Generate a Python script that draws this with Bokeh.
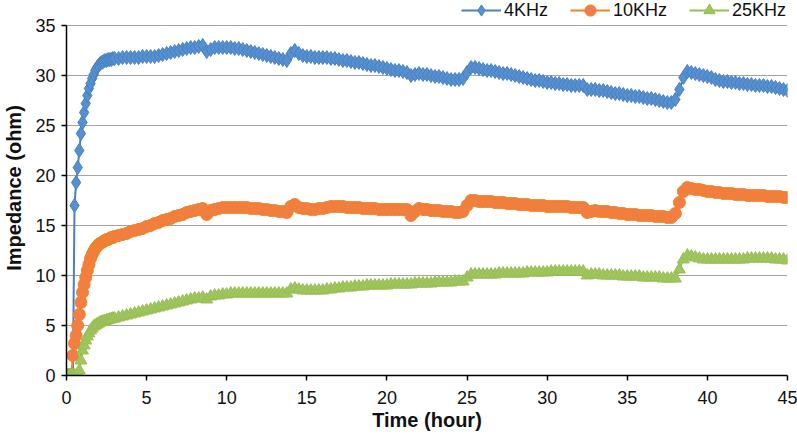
from bokeh.plotting import figure
from bokeh.models import Range1d, FixedTicker, Legend, LegendItem
from bokeh.embed import file_html
from bokeh.resources import INLINE

# sampling times (hour)
time_h = [
    0.0, 0.1, 0.2, 0.3, 0.4, 0.5, 0.6, 0.7, 0.8, 0.9,
    1.0, 1.1, 1.2, 1.3, 1.4, 1.5, 1.6, 1.7, 1.8, 1.9,
    2.0, 2.1, 2.2, 2.3, 2.4, 2.5, 2.6, 2.7, 2.8, 2.9,
    3.0, 3.25, 3.5, 3.75, 4.0, 4.25, 4.5, 4.75,
    5.0, 5.25, 5.5, 5.75, 6.0, 6.25, 6.5, 6.75,
    7.0, 7.25, 7.5, 7.75, 8.0, 8.25, 8.5, 8.75,
    9.0, 9.25, 9.5, 9.75, 10.0, 10.25, 10.5, 10.75,
    11.0, 11.25, 11.5, 11.75, 12.0, 12.25, 12.5, 12.75,
    13.0, 13.25, 13.5, 13.75, 14.0, 14.25, 14.5, 14.75,
    15.0, 15.25, 15.5, 15.75, 16.0, 16.25, 16.5, 16.75,
    17.0, 17.25, 17.5, 17.75, 18.0, 18.25, 18.5, 18.75,
    19.0, 19.25, 19.5, 19.75, 20.0, 20.25, 20.5, 20.75,
    21.0, 21.25, 21.5, 21.75, 22.0, 22.25, 22.5, 22.75,
    23.0, 23.25, 23.5, 23.75, 24.0, 24.25, 24.5, 24.75,
    25.0, 25.25, 25.5, 25.75, 26.0, 26.25, 26.5, 26.75,
    27.0, 27.25, 27.5, 27.75, 28.0, 28.25, 28.5, 28.75,
    29.0, 29.25, 29.5, 29.75, 30.0, 30.25, 30.5, 30.75,
    31.0, 31.25, 31.5, 31.75, 32.0, 32.25, 32.5, 32.75,
    33.0, 33.25, 33.5, 33.75, 34.0, 34.25, 34.5, 34.75,
    35.0, 35.25, 35.5, 35.75, 36.0, 36.25, 36.5, 36.75,
    37.0, 37.25, 37.5, 37.75, 38.0, 38.25, 38.5, 38.75,
    39.0, 39.25, 39.5, 39.75, 40.0, 40.25, 40.5, 40.75,
    41.0, 41.25, 41.5, 41.75, 42.0, 42.25, 42.5, 42.75,
    43.0, 43.25, 43.5, 43.75, 44.0, 44.25, 44.5, 44.75,
    45.0,
]

# impedance (ohm) at 4 kHz
z_4khz = [
    0, 0, 0, 0, 0, 17.0, 19.3, 20.8, 22.5, 24.2,
    25.3, 26.3, 27.2, 28.0, 28.7, 29.2, 29.7, 30.1, 30.5, 30.8,
    31.0, 31.2, 31.3, 31.4, 31.5, 31.5, 31.6, 31.6, 31.6, 31.7,
    31.7, 31.7, 31.8, 31.8, 31.8, 31.8, 31.8, 31.9,
    31.9, 31.9, 31.9, 32.0, 32.1, 32.2, 32.3, 32.4,
    32.5, 32.6, 32.7, 32.8, 32.8, 32.9, 33.0, 32.4,
    32.6, 32.8, 32.8, 32.8, 32.8, 32.8, 32.7, 32.7,
    32.6, 32.5, 32.4, 32.3, 32.2, 32.1, 32.0, 31.9,
    31.8, 31.7, 31.6, 31.5, 32.2, 32.5, 32.2, 32.0,
    31.9, 31.9, 31.8, 31.8, 31.8, 31.8, 31.7, 31.7,
    31.6, 31.5, 31.5, 31.4, 31.3, 31.3, 31.2, 31.1,
    31.0, 31.0, 30.9, 30.8, 30.7, 30.6, 30.5, 30.5,
    30.4, 30.3, 30.0, 30.1, 30.2, 30.1, 30.1, 30.0,
    29.9, 29.9, 29.8, 29.7, 29.6, 29.6, 29.6, 29.7,
    30.3, 30.8, 30.8, 30.7, 30.6, 30.5, 30.5, 30.4,
    30.3, 30.2, 30.2, 30.1, 30.0, 29.9, 29.8, 29.7,
    29.6, 29.5, 29.5, 29.4, 29.3, 29.3, 29.2, 29.2,
    29.1, 29.1, 29.0, 29.0, 29.0, 29.0, 28.6, 28.6,
    28.6, 28.5, 28.5, 28.4, 28.3, 28.2, 28.2, 28.1,
    28.0, 28.0, 27.9, 27.9, 27.8, 27.7, 27.7, 27.6,
    27.5, 27.4, 27.3, 27.3, 27.6, 28.6, 29.8, 30.4,
    30.3, 30.2, 30.1, 30.0, 29.9, 29.8, 29.6, 29.5,
    29.4, 29.4, 29.3, 29.3, 29.2, 29.2, 29.1, 29.1,
    29.0, 29.0, 29.0, 28.9, 28.9, 28.8, 28.7, 28.6,
    28.5,
]

# impedance (ohm) at 10 kHz
z_10khz = [
    0, 0, 0, 0.1, 2.0, 3.2, 4.0, 5.0, 6.1, 7.3,
    8.3, 9.1, 9.8, 10.5, 11.1, 11.7, 12.1, 12.4, 12.7, 12.9,
    13.1, 13.2, 13.3, 13.4, 13.5, 13.6, 13.6, 13.7, 13.8, 13.8,
    13.9, 14.0, 14.1, 14.2, 14.4, 14.5, 14.6, 14.7,
    14.9, 15.0, 15.2, 15.3, 15.5, 15.6, 15.7, 15.9,
    16.0, 16.1, 16.3, 16.4, 16.5, 16.6, 16.7, 16.1,
    16.5, 16.6, 16.7, 16.8, 16.8, 16.8, 16.8, 16.8,
    16.8, 16.8, 16.7, 16.7, 16.7, 16.6, 16.6, 16.5,
    16.5, 16.4, 16.4, 16.3, 16.9, 17.1, 16.8, 16.7,
    16.7, 16.6, 16.6, 16.7, 16.7, 16.8, 16.9, 16.9,
    16.9, 16.9, 16.8, 16.8, 16.8, 16.8, 16.7, 16.7,
    16.7, 16.7, 16.6, 16.6, 16.6, 16.6, 16.6, 16.6,
    16.6, 16.6, 16.0, 16.4, 16.7, 16.6, 16.6, 16.5,
    16.5, 16.5, 16.4, 16.4, 16.4, 16.3, 16.3, 16.4,
    17.0, 17.5, 17.5, 17.4, 17.4, 17.4, 17.4, 17.3,
    17.3, 17.3, 17.2, 17.2, 17.2, 17.1, 17.1, 17.1,
    17.0, 17.0, 17.0, 17.0, 16.9, 16.9, 16.9, 16.9,
    16.9, 16.9, 16.8, 16.8, 16.8, 16.8, 16.3, 16.4,
    16.5, 16.4, 16.4, 16.4, 16.3, 16.3, 16.2, 16.2,
    16.1, 16.1, 16.1, 16.0, 16.0, 16.0, 16.0, 15.9,
    15.9, 15.9, 15.8, 15.8, 16.2, 17.3, 18.4, 18.8,
    18.7, 18.6, 18.6, 18.5, 18.4, 18.4, 18.3, 18.3,
    18.2, 18.2, 18.2, 18.1, 18.1, 18.1, 18.0, 18.0,
    18.0, 18.0, 18.0, 17.9, 17.9, 17.9, 17.9, 17.8,
    17.8,
]

# impedance (ohm) at 25 kHz
z_25khz = [
    0, 0, 0, 0, 0, 0, 0, 0.1, 0.5, 1.5,
    2.5, 3.0, 3.5, 3.9, 4.2, 4.5, 4.7, 4.9, 5.0, 5.1,
    5.2, 5.3, 5.35, 5.4, 5.45, 5.5, 5.55, 5.6, 5.65, 5.7,
    5.7, 5.8, 5.9, 6.0, 6.1, 6.2, 6.3, 6.4,
    6.5, 6.6, 6.7, 6.8, 6.9, 7.0, 7.1, 7.2,
    7.3, 7.4, 7.5, 7.6, 7.7, 7.7, 7.8, 7.6,
    7.9, 8.0, 8.0, 8.1, 8.1, 8.2, 8.2, 8.2,
    8.2, 8.2, 8.2, 8.2, 8.2, 8.2, 8.2, 8.2,
    8.2, 8.2, 8.2, 8.2, 8.6, 8.7, 8.6, 8.5,
    8.5, 8.5, 8.5, 8.5, 8.5, 8.6, 8.6, 8.7,
    8.7, 8.8, 8.8, 8.8, 8.9, 8.9, 8.9, 9.0,
    9.0, 9.0, 9.0, 9.0, 9.0, 9.1, 9.1, 9.1,
    9.1, 9.1, 9.1, 9.2, 9.2, 9.2, 9.2, 9.2,
    9.3, 9.3, 9.3, 9.3, 9.3, 9.4, 9.4, 9.4,
    9.8, 10.1, 10.1, 10.1, 10.1, 10.1, 10.1, 10.1,
    10.2, 10.2, 10.2, 10.2, 10.2, 10.2, 10.2, 10.3,
    10.3, 10.3, 10.3, 10.3, 10.3, 10.4, 10.4, 10.4,
    10.4, 10.4, 10.4, 10.4, 10.4, 10.4, 10.0, 10.1,
    10.1, 10.1, 10.0, 10.0, 10.0, 10.0, 10.0, 9.9,
    9.9, 9.9, 9.9, 9.9, 9.8, 9.8, 9.8, 9.8,
    9.8, 9.7, 9.7, 9.7, 9.7, 10.6, 11.6, 12.0,
    11.9, 11.8, 11.7, 11.6, 11.6, 11.6, 11.6, 11.6,
    11.6, 11.6, 11.6, 11.6, 11.6, 11.6, 11.7, 11.7,
    11.7, 11.7, 11.7, 11.7, 11.7, 11.6, 11.6, 11.6,
    11.5,
]

series_names = ["4KHz", "10KHz", "25KHz"]
x_ticks = [0, 5, 10, 15, 20, 25, 30, 35, 40, 45]
y_ticks = [0, 5, 10, 15, 20, 25, 30, 35]

FONT = "Liberation Sans"

# frame spans the full height above the axis so the legend can sit above the 35 line
p = figure(width=797, height=442, output_backend="svg", toolbar_location=None,
           x_range=Range1d(0, 45), y_range=Range1d(0, 37.5),
           min_border_left=62, min_border_right=10, min_border_top=0, min_border_bottom=67)
p.outline_line_color = None
p.background_fill_color = "white"

for ax, ticks in ((p.xaxis[0], x_ticks), (p.yaxis[0], y_ticks)):
    ax.ticker = FixedTicker(ticks=ticks)
    ax.axis_line_color = "black"
    ax.axis_line_width = 1.5
    ax.major_tick_line_color = "black"
    ax.major_tick_line_width = 1.5
    ax.major_tick_out = 5
    ax.major_tick_in = 0
    ax.minor_tick_line_color = None
    ax.major_label_text_font = FONT
    ax.major_label_text_font_size = "18px"
    ax.major_label_text_color = "#111111"
    ax.axis_label_text_font = FONT
    ax.axis_label_text_font_size = "20px"
    ax.axis_label_text_font_style = "bold"
    ax.axis_label_text_color = "#111111"

p.xaxis[0].axis_label = "Time (hour)"
p.xaxis[0].major_label_standoff = 10
p.xaxis[0].axis_label_standoff = 2
p.yaxis[0].axis_label = "Impedance (ohm)"
p.yaxis[0].major_label_standoff = 6
p.yaxis[0].axis_label_standoff = 7
p.yaxis[0].bounds = (0, 35)

p.xgrid.visible = False
p.ygrid.ticker = FixedTicker(ticks=y_ticks)
p.ygrid.grid_line_color = "#a3a3a3"
p.ygrid.grid_line_width = 1.2

blue_line, blue_fill = "#4A80C0", "#5590D0"
orange_line, orange_fill = "#EE8424", "#F27D45"
green_line, green_fill = "#98BE55", "#9EC65C"

l1 = p.line(time_h, z_4khz, line_color=blue_line, line_width=2)
s1 = p.scatter(time_h, z_4khz, marker="diamond", size=14, fill_color=blue_fill,
               line_color=blue_line, line_width=1)
l2 = p.line(time_h, z_10khz, line_color=orange_line, line_width=2)
s2 = p.scatter(time_h, z_10khz, marker="circle", size=12, fill_color=orange_fill,
               line_color=orange_line, line_width=1)
l3 = p.line(time_h, z_25khz, line_color=green_line, line_width=2)
s3 = p.scatter(time_h, z_25khz, marker="triangle", size=12, fill_color=green_fill,
               line_color=green_line, line_width=1)

legend = Legend(items=[LegendItem(label=series_names[0], renderers=[l1, s1]),
                       LegendItem(label=series_names[1], renderers=[l2, s2]),
                       LegendItem(label=series_names[2], renderers=[l3, s3])],
                location=(395, 351), orientation="horizontal",
                border_line_color=None, background_fill_alpha=0,
                padding=0, margin=0, spacing=22, label_standoff=3,
                glyph_width=40, glyph_height=28, label_height=20,
                label_text_font=FONT, label_text_font_size="18px",
                label_text_color="#111111")
p.add_layout(legend)

open("out.html", "w").write(file_html(p, INLINE))
